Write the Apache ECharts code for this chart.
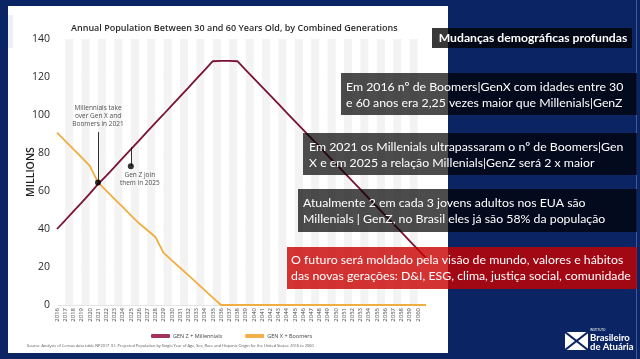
<!DOCTYPE html>
<html><head><meta charset="utf-8">
<script src="https://cdn.jsdelivr.net/npm/echarts@6/dist/echarts.min.js"></script>
<style>html,body{margin:0;padding:0;background:#0b2463;}#c{width:640px;height:359px;}</style>
</head><body><div id="c"></div>
<script>
const years = ['2016','2017','2018','2019','2020','2021','2022','2023','2024','2025','2026','2027','2028','2029','2030','2031','2032','2033','2034','2035','2036','2037','2038','2039','2040','2041','2042','2043','2044','2045','2046','2047','2048','2049','2050','2051','2052','2053','2054','2055','2056','2057','2058','2059','2060','2061'];
const genZMillennials = [40,44.6,49.3,53.9,58.6,63.6,68,72.6,77.3,81.9,86.5,91.2,95.8,100.4,105.1,109.7,114.3,119,123.6,128.3,128.5,128.5,128.3,123.8,119.3,114.8,110.3,105.8,101.3,96.8,92.3,87.8,83.3,78.8,74.3,69.8,65.3,60.8,56.3,51.8,47.3,42.8,38.3,33.8,29.3,24.8];
const genXBoomers = [90.7,86.4,82.0,77.7,73.2,64.5,60.2,55.9,51.6,47.3,43.0,39.5,35.8,27.4,23.5,19.6,15.7,11.8,7.8,3.9,0,0,0,0,0,0,0,0,0,0,0,0,0,0,0,0,0,0,0,0,0,0,0,0,0,0];
const yTicks = {min:0, max:140, interval:20};
const annotationDots = [['2021',64.5],['2025',73]];
const annotationLines = [[['2021',64.5],['2021',91]],[['2025',73],['2025',83]]];
const annotationTexts = [
  {at:['2021',99.4], text:'Millennials take\nover Gen X and\nBoomers in 2021', dx:0},
  {at:['2025',66.3], text:'Gen Z join\nthem in 2025', dx:9}
];
const chartTitle = 'Annual Population Between 30 and 60 Years Old, by Combined Generations';
const sourceText = 'Source: Analysis of Census data table NP2017_01: Projected Population by Single Year of Age, Sex, Race and Hispanic Origin for the United States: 2016 to 2060';
const slideTitle = 'Mudanças demográficas profundas';
const boxTexts = [
  'Em 2016 nº de Boomers|GenX com idades entre 30\ne 60 anos era 2,25 vezes maior que Millenials|GenZ',
  'Em 2021 os Millenials ultrapassaram o nº de Boomers|Gen\nX e em 2025 a relação Millenials|GenZ será 2 x maior',
  'Atualmente 2 em cada 3 jovens adultos nos EUA são\nMillenials | GenZ, no Brasil eles já são 58% da população',
  'O futuro será moldado pela visão de mundo, valores e hábitos\ndas novas gerações: D&I, ESG, clima, justiça social, comunidade'
];

const chartFont = 'Open Sans';
const slideFont = 'Lato';
const chart = echarts.init(document.getElementById('c'));

function box(x,y,w,h,fill,text,tx,ty){
  return [
    {type:'rect', z:100, shape:{x:x,y:y,width:w,height:h}, style:{fill:fill}},
    {type:'text', z:101, x:tx, y:ty, style:{text:text, fill:'#fff', font:'12.3px '+slideFont, lineHeight:16, verticalAlign:'top'}}
  ];
}

const graphics = [
  {type:'rect', z:-100, shape:{x:8,y:6,width:440,height:347}, style:{fill:'#ffffff'}},
  {type:'rect', z:-99, shape:{x:8,y:15,width:5,height:33}, style:{fill:'#eef0f8'}},
  {type:'rect', z:-100, shape:{x:636,y:0,width:1,height:359}, style:{fill:'#3d5b9a'}},
  {type:'rect', z:100, shape:{x:432,y:28,width:200,height:20}, style:{fill:'rgba(0,0,0,0.78)'}},
  {type:'text', z:101, x:533, y:38, style:{text:slideTitle, fill:'#fff', font:'bold 12.2px '+slideFont, align:'center', verticalAlign:'middle'}},
  ...box(341,73,296,42,'rgba(0,0,0,0.7)',boxTexts[0],346,79),
  ...box(303,133,334,42,'rgba(0,0,0,0.7)',boxTexts[1],309,139),
  ...box(298,189,339,43,'rgba(0,0,0,0.7)',boxTexts[2],303,195),
  ...box(287,247,350,42,'rgba(200,0,0,0.8)',boxTexts[3],291,252),
  // logo
  {type:'rect', z:100, shape:{x:565,y:332,width:23,height:18}, style:{fill:'#fff'}},
  {type:'polyline', z:101, shape:{points:[[565,332],[588,350]]}, style:{stroke:'#0b2463', lineWidth:2.2}},
  {type:'polyline', z:101, shape:{points:[[588,332],[565,350]]}, style:{stroke:'#0b2463', lineWidth:2.2}},
  {type:'text', z:101, x:590, y:330, style:{text:'INSTITUTO', fill:'#fff', font:'3px '+slideFont, verticalAlign:'middle'}},
  {type:'text', z:101, x:590, y:337.5, style:{text:'Brasileiro', fill:'#fff', font:'bold 9.5px '+slideFont, verticalAlign:'middle'}},
  {type:'text', z:101, x:590, y:346.5, style:{text:'de Atuária', fill:'#fff', font:'bold 9.5px '+slideFont, verticalAlign:'middle'}}
];

chart.setOption({
  backgroundColor:'#0b2463',
  animation:false,
  textStyle:{fontFamily:chartFont},
  title:[
    {text:chartTitle, left:66, top:19, textStyle:{fontSize:9.0, fontWeight:600, color:'#2a2a2a', fontFamily:chartFont}},
    {text:sourceText, left:22, top:339, textStyle:{fontSize:3.9, fontWeight:'normal', color:'#555', fontFamily:chartFont}}
  ],
  legend:{
    left:146, top:328, itemWidth:19, itemHeight:4, itemGap:23, icon:'roundRect',
    textStyle:{fontSize:5.5, color:'#444', fontFamily:chartFont, padding:[0,0,0,-2]},
    data:[{name:'GEN Z + Millennials', itemStyle:{color:'#a3335e'}},{name:'GEN X + Boomers', itemStyle:{color:'#f0b04a'}}]
  },
  grid:{left:57, right:214, top:39, bottom:54, containLabel:false},
  xAxis:{
    type:'category', data:years, boundaryGap:false,
    axisLine:{show:false}, axisTick:{show:false},
    axisLabel:{rotate:90, interval:0, fontSize:6, color:'#444', margin:3, formatter:v=> v==='2061'?'':v},
    splitLine:{show:false},
    splitArea:{show:true, areaStyle:{color:['#ffffff','#f3f3f3']}}
  },
  yAxis:{
    type:'value', min:yTicks.min, max:yTicks.max, interval:yTicks.interval,
    name:'MILLIONS', nameLocation:'middle', nameGap:20, nameRotate:90, nameMoveOverlap:false,
    nameTextStyle:{fontSize:10.5, fontWeight:600, color:'#222', fontFamily:chartFont},
    axisLine:{show:false}, axisTick:{show:false},
    axisLabel:{fontSize:10.5, color:'#2a2a2a', margin:7},
    splitLine:{lineStyle:{color:'#e4e4e4', width:1}}
  },
  series:[
    {name:'GEN Z + Millennials', type:'line', data:genZMillennials, symbol:'none', z:4,
      lineStyle:{color:'#7a1236', width:1.8}, itemStyle:{color:'#7a1236'}},
    {name:'GEN X + Boomers', type:'line', data:genXBoomers, symbol:'none', z:3,
      lineStyle:{color:'#f0ae3e', width:1.8}, itemStyle:{color:'#f0ae3e'}},
    {type:'scatter', data:annotationDots, symbol:'circle', symbolSize:6, z:6, itemStyle:{color:'#000'},
      markLine:{silent:true, symbol:'none', label:{show:false}, lineStyle:{color:'#000', width:0.8, type:'solid'},
        data:annotationLines.map(p=>[{coord:p[0]},{coord:p[1]}])}},
    {type:'scatter', symbolSize:0, z:6,
      data:annotationTexts.map(a=>({value:a.at, label:{show:true, formatter:a.text, position:'inside', offset:[a.dx,0], fontSize:6.5, lineHeight:8, color:'#222', align:'center', fontFamily:chartFont}}))}
  ],
  graphic:graphics
});
</script></body></html>
